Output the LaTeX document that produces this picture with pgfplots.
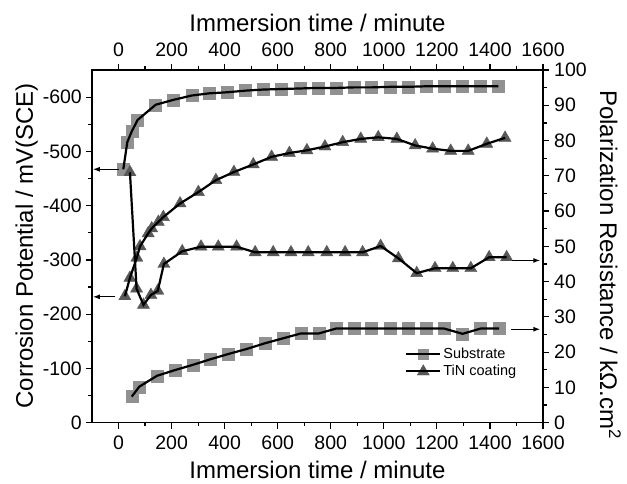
\documentclass[border=0pt]{standalone}
\usepackage{fontspec}
\setmainfont{Liberation Sans}
\usepackage{pgfplots}
\usepackage{pgfplotstable}
\pgfplotsset{compat=1.18}
\usetikzlibrary{arrows.meta}
\definecolor{sqgray}{RGB}{145,145,145}
\definecolor{trigray}{RGB}{88,88,88}
\tikzset{arr/.style={-{Latex[length=7pt,width=5pt]}, line width=1.3pt, black}}

\pgfplotstableread{
t E
18 -467
33 -517
50 -537
72 -558
140 -586
207 -595
276 -603
342 -607
410 -609
479 -612
546 -614
615 -615
684 -616
751 -617
820 -617
888 -618
954 -618
1023 -619
1090 -619
1158 -620
1227 -620
1294 -620
1363 -620
1432 -620
}\subpot

\pgfplotstableread{
t E
24 -233
43 -267
69 -304
81 -325
112 -349
125 -358
150 -370
169 -379
232 -404
301 -425
367 -447
435 -462
508 -476
577 -490
644 -497
710 -502
778 -509
845 -517
913 -523
979 -526
1049 -523
1118 -511
1184 -505
1252 -501
1318 -501
1388 -514
1457 -525
}\tinpot

\pgfplotstableread{
t R
43 71
68 38
94 33.4
122 36.2
148 37.4
171 45
240 48.6
311 49.9
376 49.9
445 49.9
515 48.3
583 48.3
650 48.3
715 48.3
785 48.3
854 48.3
920 48.3
988 50.1
1055 46.6
1124 42.4
1193 43.8
1260 43.8
1328 43.8
1397 46.9
1463 46.9
}\tinrp

\pgfplotstableread{
t R
50 7.4
78 10.2
145 13.3
212 14.9
280 16.4
347 18.0
415 19.5
483 20.9
551 22.5
619 23.9
687 25.3
755 25.3
820 26.7
888 26.7
954 26.7
1023 26.7
1090 26.7
1158 26.7
1227 26.7
1297 25.2
1365 26.7
1435 26.7
}\subrp

\begin{document}
\begin{tikzpicture}
\pgfplotsset{
  common/.style={
    at={(0,0)}, anchor=south west, scale only axis,
    width=451pt, height=352.7pt,
    xmin=-100, xmax=1600, xtick={0,200,...,1600}, minor x tick num=1,
    tick align=outside, major tick length=6pt, minor tick length=3.5pt,
    tick style={black, line width=1.2pt},
    axis line style={line width=1.5pt},
    /pgf/number format/assume math mode=true,
    /pgf/number format/1000 sep={},
    ticklabel style={font=\fontsize{19.5}{22}\selectfont},
    xticklabel style={inner sep=7pt},
    clip=false,
  },
  leftax/.style={ymin=-650, ymax=0, y dir=reverse},
  rightax/.style={ymin=0, ymax=100},
  sqmarks/.style={only marks, mark=square*, mark size=6pt, mark options={sqgray}},
  trimarks/.style={only marks, mark=triangle*, mark size=7pt, mark options={trigray}},
  blk/.style={black, line width=2.2pt, no marks},
}
% marks, left axis (potential)
\begin{axis}[common, leftax,
  ytick={-600,-500,...,0}, minor y tick num=1,
  xtick pos=left, ytick pos=left,
  yticklabel style={inner sep=4pt}]
\addplot[sqmarks] table[x=t,y=E]{\subpot};
\addplot[trimarks] table[x=t,y=E]{\tinpot};
\end{axis}
% marks, right axis (resistance)
\begin{axis}[common, rightax,
  ytick={0,10,...,100}, minor y tick num=1,
  xtick pos=right, ytick pos=right, xticklabel pos=right, yticklabel pos=right,
  yticklabel style={inner sep=5pt}]
\addplot[sqmarks] table[x=t,y=R]{\subrp};
\addplot[trimarks] table[x=t,y=R]{\tinrp};
\end{axis}
% lines, left axis
\begin{axis}[common, leftax, hide axis,
  legend style={at={(axis description cs:0.694,0.2175)}, anchor=north west,
    draw=none, fill=none, font=\fontsize{14.5}{17}\selectfont,
    row sep=1pt, inner sep=0pt, nodes={inner sep=2pt}},
  legend cell align=left]
\addplot[blk, forget plot] table[x=t,y=E]{\subpot};
\addplot[blk, forget plot] table[x=t,y=E]{\tinpot};
\draw[arr] (axis cs:0,-467) -- (axis cs:-97,-467);
\draw[arr] (axis cs:-13,-232) -- (axis cs:-97,-232);
\addlegendimage{legend image code/.code={
  \fill[sqgray] (12pt,-5pt) rectangle (22pt,5pt);
  \draw[black,line width=2.2pt] (0pt,0pt) -- (34pt,0pt);}}
\addlegendentry{Substrate}
\addlegendimage{legend image code/.code={
  \fill[trigray] (17pt,6.5pt) -- (11pt,-3.8pt) -- (23pt,-3.8pt) -- cycle;
  \draw[black,line width=2.2pt] (0pt,0pt) -- (34pt,0pt);}}
\addlegendentry{TiN coating}
\end{axis}
% lines, right axis
\begin{axis}[common, rightax, hide axis]
\addplot[blk] table[x=t,y=R]{\subrp};
\addplot[blk] table[x=t,y=R]{\tinrp};
\draw[arr] (axis cs:1485,46) -- (axis cs:1590,46);
\draw[arr] (axis cs:1480,26.5) -- (axis cs:1590,26.5);
\end{axis}
\node[anchor=base, font=\fontsize{24}{28}\selectfont] at (225.5pt,-55.8pt) {Immersion time / minute};
\node[anchor=base, font=\fontsize{24}{28}\selectfont] at (225.5pt,390.7pt) {Immersion time / minute};
\node[anchor=base, rotate=90, font=\fontsize{24}{28}\selectfont] at (-59pt,177pt) {Corrosion Potential / mV(SCE)};
\node[anchor=base, rotate=-90, font=\fontsize{24}{28}\selectfont] at (508pt,158pt) {Polarization Resistance / kΩ.cm\textsuperscript{2}};
\pgfresetboundingbox
\path (-92pt,-60.3pt) rectangle (535pt,422.7pt);
\end{tikzpicture}
\end{document}
